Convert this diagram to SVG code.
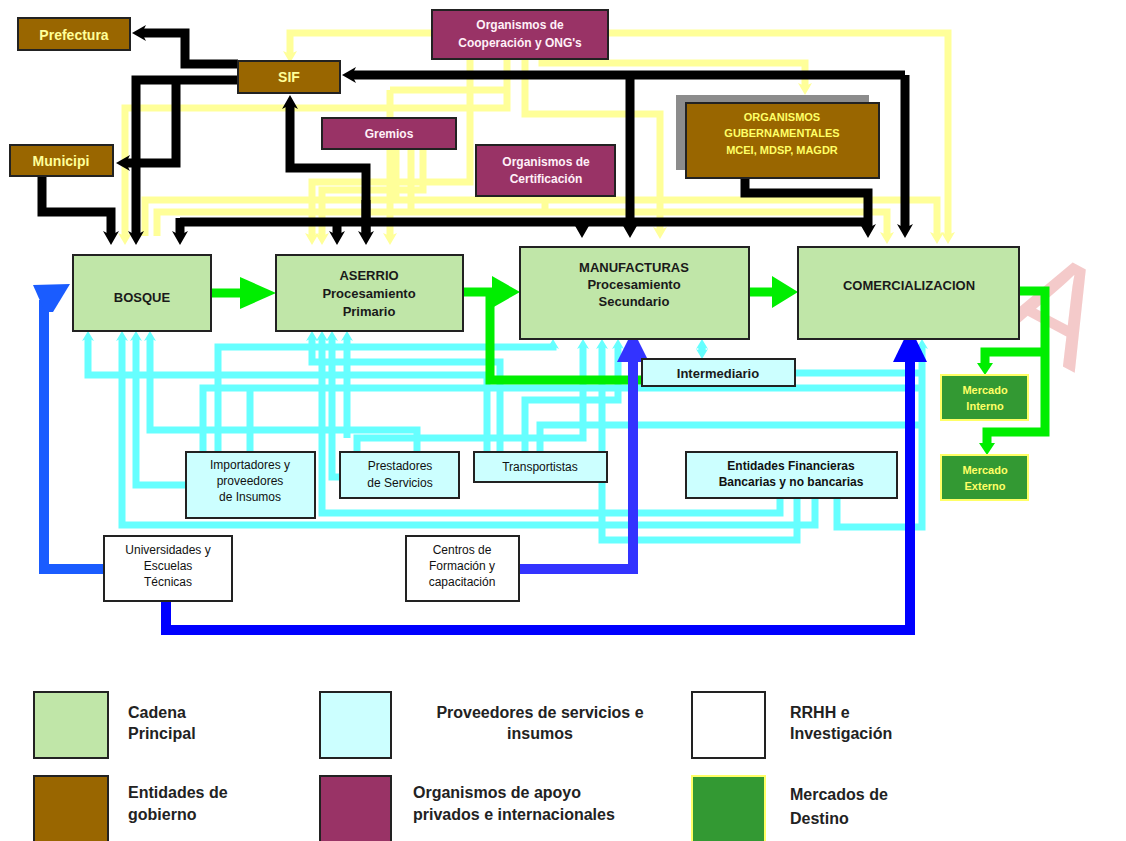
<svg xmlns="http://www.w3.org/2000/svg" width="1126" height="841" viewBox="0 0 1126 841">
<style>
.bk{fill:none;stroke:#000;stroke-width:9}
.yl{fill:none;stroke:#FFFF99;stroke-width:7}
.cy{fill:none;stroke:#66FFFF;stroke-width:7}
.gr{fill:none;stroke:#00EE00;stroke-width:9}
.bl{fill:none;stroke-width:10}
.main{fill:#C0E6A8;stroke:#222;stroke-width:2}
.gov{fill:#996600;stroke:#222;stroke-width:2}
.org{fill:#993366;stroke:#222;stroke-width:2}
.sup{fill:#CCFFFF;stroke:#222;stroke-width:2}
.rr{fill:#fff;stroke:#222;stroke-width:2}
.mk{fill:#339933;stroke:#FFFF66;stroke-width:2}
text{font-family:"Liberation Sans",Arial,sans-serif;text-anchor:middle}
.tm{font-size:13px;font-weight:bold;fill:#1a1a1a}
.tg{font-size:14px;font-weight:bold;fill:#FFFF99}
.to{font-size:12px;font-weight:bold;fill:#FFF0F8}
.ts{font-size:12px;fill:#111}
.tk{font-size:11px;font-weight:bold;fill:#FFFF66}
.lg{font-size:16px;font-weight:bold;fill:#222;text-anchor:start}
</style>
<defs>
<marker id="mb" markerUnits="userSpaceOnUse" markerWidth="14" markerHeight="16" refX="4" refY="8" orient="auto" viewBox="0 0 14 16"><path d="M0,0 L14,8 L0,16 L4,8 Z" fill="#000"/></marker>
<marker id="my" markerUnits="userSpaceOnUse" markerWidth="12" markerHeight="14" refX="3" refY="7" orient="auto" viewBox="0 0 12 14"><path d="M0,0 L12,7 L0,14 L3,7 Z" fill="#FFFF99"/></marker>
<marker id="mc" markerUnits="userSpaceOnUse" markerWidth="10" markerHeight="12" refX="3" refY="6" orient="auto" viewBox="0 0 10 12"><path d="M0,0 L10,6 L0,12 L3,6 Z" fill="#66FFFF"/></marker>
</defs>

<text x="1062" y="362" font-size="140" fill="#F4CACA" transform="rotate(28 1070 300)">A</text>

<g id="connectors">
<!-- yellow -->
<path class="yl" d="M432,33 H290 V54" marker-end="url(#my)"/>
<path class="yl" d="M608,33 H948 V235" marker-end="url(#my)"/>
<path class="yl" d="M542,59 V63 H805 V86" marker-end="url(#my)"/>
<path class="yl" d="M507,59 V108 H125 V236" marker-end="url(#my)"/>
<path class="yl" d="M470,59 V182 H312 V236" marker-end="url(#my)"/>
<path class="yl" d="M525,59 V114 H660 V230" marker-end="url(#my)"/>
<path class="yl" d="M145,236 V200 H937 V235" marker-end="url(#my)"/>
<path class="yl" d="M157,236 V212 H887 V235" marker-end="url(#my)"/>
<path class="yl" d="M396,149 V200"/>
<path class="yl" d="M411,149 V212"/>
<path class="yl" d="M423,149 V190 H322 V236" marker-end="url(#my)"/>
<path class="yl" d="M390,90 H507"/>
<path class="yl" d="M390,90 V236" marker-end="url(#my)"/>
<path class="yl" d="M545,196 V212"/>
<path class="yl" d="M555,196 V200"/>
<!-- black -->
<path class="bk" d="M238,64 H185 V33 H142" marker-end="url(#mb)"/>
<path class="bk" d="M238,80 H136 V235" marker-end="url(#mb)" stroke-width="11"/>
<path class="bk" d="M176,80 V163 H126" marker-end="url(#mb)"/>
<path class="bk" d="M42,176 V212 H111 V235" marker-end="url(#mb)"/>
<path class="bk" d="M905,75 H352" marker-end="url(#mb)"/>
<path class="bk" d="M905,75 V228" marker-end="url(#mb)"/>
<path class="bk" d="M630,75 V228" marker-end="url(#mb)"/>
<path class="bk" d="M366,235 V168 H290 V105" marker-end="url(#mb)"/>
<path class="bk" d="M366,200 V235" marker-end="url(#mb)"/>
<path class="bk" d="M180,222 H868"/>
<path class="bk" d="M180,218 V235" marker-end="url(#mb)"/>
<path class="bk" d="M337,222 V235" marker-end="url(#mb)"/>
<path class="bk" d="M582,222 V228" marker-end="url(#mb)"/>
<path class="bk" d="M745,178 V193 H868 V228" marker-end="url(#mb)"/>
<!-- cyan -->
<path class="cy" d="M487,452 V375 H88 V338" marker-end="url(#mc)"/>
<path class="cy" d="M203,452 V388 H922"/>
<path class="cy" d="M250,452 V388"/>
<path class="cy" d="M218,452 V347 H553 V346" marker-end="url(#mc)"/>
<path class="cy" d="M417,452 V430 H150 V338" marker-end="url(#mc)"/>
<path class="cy" d="M186,485 H136 V338" marker-end="url(#mc)"/>
<path class="cy" d="M815,498 V525 H122 V338" marker-end="url(#mc)"/>
<path class="cy" d="M780,498 V513 H322 V338" marker-end="url(#mc)"/>
<path class="cy" d="M797,498 V540 H602 V346" marker-end="url(#mc)"/>
<path class="cy" d="M837,498 V527 H922 V346" marker-end="url(#mc)"/>
<path class="cy" d="M340,477 H332 V338" marker-end="url(#mc)"/>
<path class="cy" d="M357,452 V438 H583 V346" marker-end="url(#mc)"/>
<path class="cy" d="M347,438 V338" marker-end="url(#mc)"/>
<path class="cy" d="M540,452 V425 H922"/>
<path class="cy" d="M500,452 V362 H312 V338" marker-end="url(#mc)"/>
<path class="cy" d="M525,452 V400 H618 V346" marker-end="url(#mc)"/>
<path class="cy" d="M702,352 V346" marker-end="url(#mc)"/>
<path class="cy" d="M702,346 V352" marker-end="url(#mc)"/>
<path class="cy" d="M795,373 H922"/>
<!-- green -->
<path class="gr" d="M211,293 H245"/>
<polygon points="240,277 276,293 240,309" fill="#00EE00"/>
<path class="gr" d="M463,292 H495"/>
<polygon points="492,276 520,292 492,308" fill="#00EE00"/>
<path class="gr" d="M749,292 H775"/>
<polygon points="772,276 798,292 772,308" fill="#00EE00"/>
<path class="gr" d="M490,292 V380 H642" stroke-width="8"/>
<path class="gr" d="M1019,291 H1045 V432 H987 V445" stroke-width="7"/>
<polygon points="979,443 987,455 995,443" fill="#00EE00"/>
<path class="gr" d="M1045,352 H985 V365" stroke-width="7"/>
<polygon points="977,363 985,375 993,363" fill="#00EE00"/>
<!-- blue -->
<path class="bl" stroke="#1A5CFF" d="M104,569 H44 V300"/>
<polygon points="33,285 70,284 53,312 45,312" fill="#1A5CFF"/>
<path class="bl" stroke="#0000FF" d="M166,601 V630 H910 V355"/>
<polygon points="893,362 910,327 927,362" fill="#0000FF"/>
<path class="bl" stroke="#3333FF" d="M519,569 H633 V355"/>
<polygon points="617,362 633,330 649,362" fill="#3333FF"/>
</g>

<g id="prefectura"><rect class="gov" x="18" y="18" width="112" height="32"/><text class="tg" x="74" y="40" font-size="15">Prefectura</text></g>
<g id="sif"><rect class="gov" x="238" y="61" width="102" height="32"/><text class="tg" x="289" y="82">SIF</text></g>
<g id="municipi"><rect class="gov" x="10" y="145" width="103" height="31"/><text class="tg" x="61" y="166" font-size="15">Municipi</text></g>
<g id="ong"><rect class="org" x="432" y="10" width="176" height="49"/><text class="to" x="520" y="29">Organismos de</text><text class="to" x="520" y="47">Cooperación y ONG's</text></g>
<g id="gremios"><rect class="org" x="322" y="118" width="134" height="31"/><text class="to" x="389" y="138">Gremios</text></g>
<g id="certificacion"><rect class="org" x="476" y="145" width="139" height="51"/><text class="to" x="546" y="166">Organismos de</text><text class="to" x="546" y="183">Certificación</text></g>
<g id="orggub"><rect x="676" y="95" width="193" height="75" fill="#8C8C8C"/><rect class="gov" x="686" y="103" width="193" height="75"/><text class="tk" x="782" y="121" font-size="12">ORGANISMOS</text><text class="tk" x="782" y="137" font-size="12">GUBERNAMENTALES</text><text class="tk" x="782" y="154" font-size="12">MCEI, MDSP, MAGDR</text></g>
<g id="bosque"><rect class="main" x="73" y="255" width="138" height="76"/><text class="tm" x="142" y="302" font-size="14">BOSQUE</text></g>
<g id="aserrio"><rect class="main" x="276" y="255" width="187" height="76"/><text class="tm" x="369" y="280">ASERRIO</text><text class="tm" x="369" y="298">Procesamiento</text><text class="tm" x="369" y="316">Primario</text></g>
<g id="manufacturas"><rect class="main" x="520" y="247" width="229" height="92"/><text class="tm" x="634" y="272">MANUFACTURAS</text><text class="tm" x="634" y="289">Procesamiento</text><text class="tm" x="634" y="306">Secundario</text></g>
<g id="comercializacion"><rect class="main" x="798" y="247" width="221" height="92"/><text class="tm" x="909" y="290">COMERCIALIZACION</text></g>
<g id="intermediario"><rect class="sup" x="642" y="359" width="153" height="27"/><text class="tm" x="718" y="378" font-size="15">Intermediario</text></g>
<g id="mercadointerno"><rect class="mk" x="941" y="375" width="87" height="45"/><text class="tk" x="985" y="394">Mercado</text><text class="tk" x="985" y="410">Interno</text></g>
<g id="mercadoexterno"><rect class="mk" x="941" y="455" width="87" height="45"/><text class="tk" x="985" y="474">Mercado</text><text class="tk" x="985" y="490">Externo</text></g>
<g id="importadores"><rect class="sup" x="186" y="452" width="129" height="66"/><text class="ts" x="250" y="469">Importadores y</text><text class="ts" x="250" y="485">proveedores</text><text class="ts" x="250" y="501">de Insumos</text></g>
<g id="prestadores"><rect class="sup" x="340" y="452" width="119" height="46"/><text class="ts" x="400" y="470">Prestadores</text><text class="ts" x="400" y="487">de Servicios</text></g>
<g id="transportistas"><rect class="sup" x="474" y="452" width="133" height="30"/><text class="ts" x="540" y="471">Transportistas</text></g>
<g id="financieras"><rect class="sup" x="686" y="452" width="211" height="46"/><text class="ts" x="791" y="470" font-weight="bold" font-size="11.5">Entidades Financieras</text><text class="ts" x="791" y="486" font-weight="bold" font-size="11.5">Bancarias y no bancarias</text></g>
<g id="universidades"><rect class="rr" x="104" y="536" width="128" height="65"/><text class="ts" x="168" y="554">Universidades y</text><text class="ts" x="168" y="570">Escuelas</text><text class="ts" x="168" y="586">Técnicas</text></g>
<g id="centros"><rect class="rr" x="406" y="536" width="113" height="65"/><text class="ts" x="462" y="554">Centros de</text><text class="ts" x="462" y="570">Formación y</text><text class="ts" x="462" y="586">capacitación</text></g>

<g id="legend">
<rect class="main" x="34" y="692" width="74" height="66"/>
<text class="lg" x="128" y="718">Cadena</text><text class="lg" x="128" y="739">Principal</text>
<rect class="sup" x="320" y="692" width="71" height="66"/>
<text class="lg" x="540" y="718" style="text-anchor:middle">Proveedores de servicios e</text><text class="lg" x="540" y="739" style="text-anchor:middle">insumos</text>
<rect class="rr" x="692" y="692" width="73" height="66"/>
<text class="lg" x="790" y="718">RRHH e</text><text class="lg" x="790" y="739">Investigación</text>
<rect class="gov" x="34" y="776" width="74" height="70"/>
<text class="lg" x="128" y="798">Entidades de</text><text class="lg" x="128" y="820">gobierno</text>
<rect class="org" x="320" y="776" width="71" height="70"/>
<text class="lg" x="413" y="798">Organismos de apoyo</text><text class="lg" x="413" y="820">privados e internacionales</text>
<rect class="mk" x="692" y="776" width="73" height="70"/>
<text class="lg" x="790" y="800">Mercados de</text><text class="lg" x="790" y="824">Destino</text>
</g>
</svg>
